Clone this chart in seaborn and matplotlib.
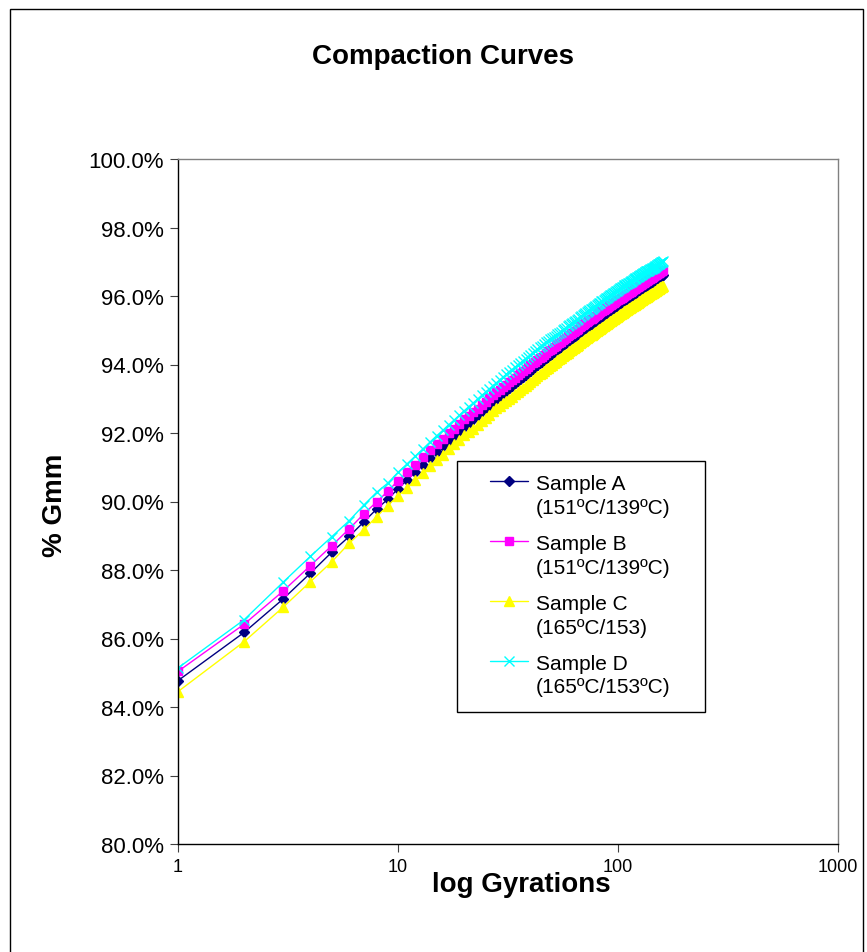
import matplotlib
matplotlib.use("Agg")
import matplotlib.pyplot as plt
import seaborn as sns
import pandas as pd
from matplotlib.patches import Rectangle
from matplotlib.ticker import FixedLocator, FixedFormatter, NullLocator

# ---------------- data ----------------
gyrations = list(range(1, 161))

sample_a = [
    84.77, 86.18, 87.15, 87.91, 88.52, 88.98, 89.41, 89.78, 90.07, 90.37,
    90.63, 90.86, 91.07, 91.27, 91.45, 91.61, 91.77, 91.91, 92.05, 92.18,
    92.30, 92.41, 92.52, 92.63, 92.72, 92.82, 92.91, 93.00, 93.08, 93.16,
    93.24, 93.31, 93.38, 93.45, 93.52, 93.58, 93.64, 93.70, 93.76, 93.82,
    93.88, 93.93, 93.98, 94.03, 94.08, 94.13, 94.18, 94.23, 94.27, 94.31,
    94.36, 94.40, 94.44, 94.48, 94.52, 94.56, 94.60, 94.63, 94.67, 94.71,
    94.74, 94.77, 94.81, 94.84, 94.87, 94.90, 94.94, 94.97, 95.00, 95.03,
    95.06, 95.08, 95.11, 95.14, 95.17, 95.19, 95.22, 95.25, 95.27, 95.30,
    95.32, 95.35, 95.37, 95.40, 95.42, 95.44, 95.47, 95.49, 95.51, 95.53,
    95.55, 95.58, 95.60, 95.62, 95.64, 95.66, 95.68, 95.70, 95.72, 95.74,
    95.76, 95.78, 95.80, 95.81, 95.83, 95.85, 95.87, 95.89, 95.90, 95.92,
    95.94, 95.96, 95.97, 95.99, 96.01, 96.02, 96.04, 96.06, 96.07, 96.09,
    96.10, 96.12, 96.13, 96.15, 96.16, 96.18, 96.19, 96.21, 96.22, 96.23,
    96.25, 96.26, 96.28, 96.29, 96.30, 96.32, 96.33, 96.35, 96.36, 96.37,
    96.38, 96.40, 96.41, 96.42, 96.43, 96.45, 96.46, 96.47, 96.48, 96.50,
    96.51, 96.52, 96.53, 96.54, 96.55, 96.57, 96.58, 96.59, 96.60, 96.61,
]

sample_b = [
    85.04, 86.42, 87.38, 88.13, 88.71, 89.20, 89.64, 89.99, 90.30, 90.61,
    90.85, 91.08, 91.29, 91.49, 91.67, 91.83, 91.99, 92.13, 92.27, 92.40,
    92.49, 92.60, 92.71, 92.82, 92.91, 93.01, 93.10, 93.19, 93.27, 93.35,
    93.41, 93.48, 93.55, 93.62, 93.69, 93.75, 93.81, 93.87, 93.93, 93.99,
    94.03, 94.08, 94.13, 94.18, 94.23, 94.28, 94.33, 94.38, 94.42, 94.46,
    94.51, 94.55, 94.59, 94.63, 94.67, 94.71, 94.75, 94.78, 94.82, 94.86,
    94.89, 94.92, 94.96, 94.99, 95.02, 95.05, 95.09, 95.12, 95.15, 95.18,
    95.21, 95.23, 95.26, 95.29, 95.32, 95.34, 95.37, 95.40, 95.42, 95.45,
    95.47, 95.50, 95.52, 95.55, 95.57, 95.59, 95.62, 95.64, 95.66, 95.68,
    95.70, 95.73, 95.75, 95.77, 95.79, 95.81, 95.83, 95.85, 95.87, 95.89,
    95.90, 95.92, 95.94, 95.95, 95.97, 95.99, 96.01, 96.03, 96.04, 96.06,
    96.08, 96.10, 96.11, 96.13, 96.15, 96.16, 96.18, 96.20, 96.21, 96.23,
    96.24, 96.26, 96.27, 96.29, 96.30, 96.32, 96.33, 96.35, 96.36, 96.37,
    96.39, 96.40, 96.42, 96.43, 96.44, 96.46, 96.47, 96.49, 96.50, 96.51,
    96.52, 96.54, 96.55, 96.56, 96.57, 96.59, 96.60, 96.61, 96.62, 96.64,
    96.65, 96.66, 96.67, 96.68, 96.69, 96.71, 96.72, 96.73, 96.74, 96.75,
]

sample_c = [
    84.45, 85.91, 86.91, 87.66, 88.24, 88.78, 89.18, 89.56, 89.88, 90.17,
    90.39, 90.62, 90.83, 91.03, 91.21, 91.37, 91.53, 91.67, 91.81, 91.94,
    92.02, 92.13, 92.24, 92.35, 92.44, 92.54, 92.63, 92.72, 92.80, 92.88,
    92.92, 92.99, 93.06, 93.13, 93.20, 93.26, 93.32, 93.38, 93.44, 93.50,
    93.56, 93.61, 93.66, 93.71, 93.76, 93.81, 93.86, 93.91, 93.95, 93.99,
    94.04, 94.08, 94.12, 94.16, 94.20, 94.24, 94.28, 94.31, 94.35, 94.39,
    94.42, 94.45, 94.49, 94.52, 94.55, 94.58, 94.62, 94.65, 94.68, 94.71,
    94.74, 94.76, 94.79, 94.82, 94.85, 94.87, 94.90, 94.93, 94.95, 94.98,
    95.00, 95.03, 95.05, 95.08, 95.10, 95.12, 95.15, 95.17, 95.19, 95.21,
    95.23, 95.26, 95.28, 95.30, 95.32, 95.34, 95.36, 95.38, 95.40, 95.42,
    95.44, 95.46, 95.48, 95.49, 95.51, 95.53, 95.55, 95.57, 95.58, 95.60,
    95.62, 95.64, 95.65, 95.67, 95.69, 95.70, 95.72, 95.74, 95.75, 95.77,
    95.78, 95.80, 95.81, 95.83, 95.84, 95.86, 95.87, 95.89, 95.90, 95.91,
    95.93, 95.94, 95.96, 95.97, 95.98, 96.00, 96.01, 96.03, 96.04, 96.05,
    96.06, 96.08, 96.09, 96.10, 96.11, 96.13, 96.14, 96.15, 96.16, 96.18,
    96.19, 96.20, 96.21, 96.22, 96.23, 96.25, 96.26, 96.27, 96.28, 96.29,
]

sample_d = [
    85.14, 86.55, 87.64, 88.40, 88.97, 89.44, 89.90, 90.27, 90.54, 90.85,
    91.10, 91.33, 91.54, 91.74, 91.92, 92.08, 92.24, 92.38, 92.52, 92.65,
    92.77, 92.88, 92.99, 93.10, 93.19, 93.29, 93.38, 93.47, 93.55, 93.63,
    93.71, 93.78, 93.85, 93.92, 93.99, 94.05, 94.11, 94.17, 94.23, 94.29,
    94.35, 94.40, 94.45, 94.50, 94.55, 94.60, 94.65, 94.70, 94.74, 94.78,
    94.80, 94.84, 94.88, 94.92, 94.96, 95.00, 95.04, 95.07, 95.11, 95.15,
    95.18, 95.21, 95.25, 95.28, 95.31, 95.34, 95.38, 95.41, 95.44, 95.47,
    95.50, 95.52, 95.55, 95.58, 95.61, 95.63, 95.66, 95.69, 95.71, 95.74,
    95.76, 95.79, 95.81, 95.84, 95.86, 95.88, 95.91, 95.93, 95.95, 95.97,
    95.99, 96.02, 96.04, 96.06, 96.08, 96.10, 96.12, 96.14, 96.16, 96.18,
    96.20, 96.22, 96.24, 96.25, 96.27, 96.29, 96.31, 96.33, 96.34, 96.36,
    96.37, 96.39, 96.40, 96.42, 96.44, 96.45, 96.47, 96.49, 96.50, 96.52,
    96.53, 96.55, 96.56, 96.58, 96.59, 96.61, 96.62, 96.64, 96.65, 96.66,
    96.68, 96.69, 96.71, 96.72, 96.73, 96.73, 96.74, 96.76, 96.77, 96.78,
    96.78, 96.80, 96.81, 96.82, 96.83, 96.85, 96.86, 96.87, 96.88, 96.90,
    96.91, 96.92, 96.93, 96.94, 96.95, 96.97, 96.98, 96.99, 97.00, 97.01,
]

series_labels = [
    "Sample A\n(151\u00baC/139\u00baC)",
    "Sample B\n(151\u00baC/139\u00baC)",
    "Sample C\n(165\u00baC/153)",
    "Sample D\n(165\u00baC/153\u00baC)",
]

y_ticks = [80, 82, 84, 86, 88, 90, 92, 94, 96, 98, 100]
x_ticks = [1, 10, 100, 1000]
x_tick_labels = ["1", "10", "100", "1000"]

# ---------------- style ----------------
sns.set_theme(style="white")
plt.rcParams["font.family"] = ["Liberation Sans", "DejaVu Sans"]
plt.rcParams["text.color"] = "black"
plt.rcParams["axes.labelcolor"] = "black"
plt.rcParams["xtick.color"] = "black"
plt.rcParams["ytick.color"] = "black"

colors = ["#000080", "#FF00FF", "#FFFF00", "#00FFFF"]
markers = ["D", "s", "^", "x"]
msizes = [5.5, 5.5, 7.5, 7.0]

fig = plt.figure(figsize=(8.67, 9.53), dpi=100)
W, H = 867, 953
ax = fig.add_axes([178 / W, 108 / H, 660 / W, 685 / H])

for vals, lab, col, mk, ms in zip([sample_a, sample_b, sample_c, sample_d],
                                  series_labels, colors, markers, msizes):
    df = pd.DataFrame({"Gyrations": gyrations, "Gmm": vals})
    sns.lineplot(data=df, x="Gyrations", y="Gmm", ax=ax, color=col,
                 marker=mk, markersize=ms, markeredgecolor=col,
                 markerfacecolor=col, markeredgewidth=1.0,
                 linewidth=1.0, label=lab, legend=False)

ax.set_xscale("log")
ax.set_xlim(1, 1000)
ax.set_ylim(80, 100)
ax.xaxis.set_major_locator(FixedLocator(x_ticks))
ax.xaxis.set_major_formatter(FixedFormatter(x_tick_labels))
ax.xaxis.set_minor_locator(NullLocator())
ax.yaxis.set_major_locator(FixedLocator(y_ticks))
ax.set_yticklabels([f"{v:.1f}%" for v in y_ticks])
ax.set_xlabel("")
ax.set_ylabel("")
ax.grid(False)

for side in ["top", "right"]:
    ax.spines[side].set_color("#808080")
    ax.spines[side].set_linewidth(1.0)
for side in ["left", "bottom"]:
    ax.spines[side].set_color("black")
    ax.spines[side].set_linewidth(1.0)

ax.tick_params(axis="y", direction="out", length=6, width=0.8, color="#404040",
               labelsize=16, pad=4, left=True, labelcolor="black")
ax.tick_params(axis="x", direction="out", length=6, width=0.8, color="#404040",
               labelsize=13, pad=4, bottom=True, labelcolor="black")

# legend
handles, labels = ax.get_legend_handles_labels()
leg = ax.legend(handles, labels, loc="upper left",
                bbox_to_anchor=((490 - 178) / 660, (845 - 475) / 685),
                borderaxespad=0, frameon=False, fontsize=15,
                handlelength=1.8, handletextpad=0.4, labelspacing=0.82,
                borderpad=0)
for col in leg._legend_handle_box.get_children():
    for item in col.get_children():
        item.align = "top"
for t in leg.get_texts():
    t.set_linespacing(1.32)
    t.set_color("black")

ax.add_patch(Rectangle(((457 - 178) / 660, (845 - 713) / 685),
                       (705 - 457) / 660, (713 - 462) / 685,
                       transform=ax.transAxes, fill=True, facecolor="white",
                       edgecolor="black", linewidth=1.0, zorder=4))
leg.set_zorder(5)

# titles
fig.text(443 / W, 1 - 57 / H, "Compaction Curves", ha="center", va="center",
         fontsize=20, fontweight="bold", color="black")
fig.text(521 / W, 1 - 885 / H, "log Gyrations", ha="center", va="center",
         fontsize=20, fontweight="bold", color="black")
fig.text(55 / W, 1 - 505 / H, "% Gmm", ha="center", va="center",
         fontsize=20, fontweight="bold", rotation=90, color="black")

# outer chart border
fig.add_artist(Rectangle((10 / W, -0.1), (863 - 10) / W, 1.1 - 10 / H,
                         transform=fig.transFigure, fill=False,
                         edgecolor="black", linewidth=1.0))

fig.savefig("out.png", dpi=100, facecolor="white")
